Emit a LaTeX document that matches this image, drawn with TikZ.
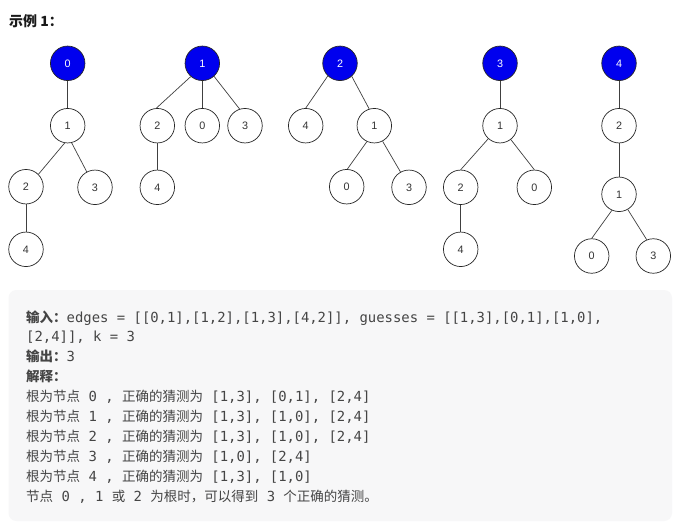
\documentclass[tikz,border=0pt]{standalone}
\usepackage{fontspec}
\newfontfamily\cjk{Noto Sans CJK SC}
\newfontfamily\mono{DejaVu Sans Mono}
\newfontfamily\nodefont{Liberation Sans}
\definecolor{rootblue}{RGB}{0,0,238}
\definecolor{txt}{HTML}{454545}
\definecolor{boxbg}{HTML}{F7F7F8}
\newcommand{\C}[1]{{\cjk\fontsize{13.5}{20}\selectfont #1}}
\newcommand{\CB}[1]{{\cjk\bfseries\fontsize{13.5}{20}\selectfont #1}}
\begin{document}
\begin{tikzpicture}[x=1pt,y=-1pt,
 tn/.style={circle,draw=black!85,line width=0.7pt,minimum size=34.5pt,inner sep=0pt,fill=white,font=\nodefont\fontsize{10.8}{12}\selectfont,text=black!80},
 rt/.style={tn,fill=rootblue,text=white},
 edge/.style={draw=black!75,line width=0.7pt},
 ln/.style={anchor=base west,inner sep=0pt,text=txt,font=\mono\fontsize{13.9}{20}\selectfont}
]
\fill[white] (0,0) rectangle (679,530);
\useasboundingbox (0,0) rectangle (679,530);

\node[anchor=base west,inner sep=0pt,font=\cjk\bfseries\fontsize{14}{16}\selectfont,text=black!90] (title) at (9,26) {示例 1：};

% tree 0
\node[rt] (a0) at (67.7,63.3) {0};
\node[tn] (a1) at (67.7,125.7) {1};
\node[tn] (a2) at (26,186.7) {2};
\node[tn] (a3) at (95,187.3) {3};
\node[tn] (a4) at (26,249.3) {4};
\draw[edge] (a0.south) -- (a1.north);
\draw[edge] (a1.-100) -- (a2.45);
\draw[edge] (a1.-77) -- (a3.118);
\draw[edge] (a2.south) -- (a4.north);

% tree 1
\node[rt] (b1) at (202.3,63.3) {1};
\node[tn] (b2) at (157.3,125.7) {2};
\node[tn] (b0) at (202.3,125.7) {0};
\node[tn] (b3) at (245,125.7) {3};
\node[tn] (b4) at (157.3,187.3) {4};
\draw[edge] (b1.-131) -- (b2.93);
\draw[edge] (b1.south) -- (b0.north);
\draw[edge] (b1.-48) -- (b3.108);
\draw[edge] (b2.south) -- (b4.north);

% tree 2
\node[rt] (c2) at (340,63.3) {2};
\node[tn] (c4) at (305.7,125.7) {4};
\node[tn] (c1) at (374.3,125.7) {1};
\node[tn] (c0) at (346.7,186.7) {0};
\node[tn] (c3) at (409,187.3) {3};
\draw[edge] (c2.-134) -- (c4.90);
\draw[edge] (c2.-48) -- (c1.107);
\draw[edge] (c1.-115) -- (c0.88);
\draw[edge] (c1.-62) -- (c3.119);

% tree 3
\node[rt] (d3) at (500,63.3) {3};
\node[tn] (d1) at (500,125.7) {1};
\node[tn] (d2) at (460.7,187.3) {2};
\node[tn] (d0) at (534.3,187.3) {0};
\node[tn] (d4) at (460.7,249.3) {4};
\draw[edge] (d3.south) -- (d1.north);
\draw[edge] (d1.-132) -- (d2.90);
\draw[edge] (d1.-52) -- (d0.90);
\draw[edge] (d2.south) -- (d4.north);

% tree 4
\node[rt] (e4) at (619,63.3) {4};
\node[tn] (e2) at (619,125.7) {2};
\node[tn] (e1) at (619,194.3) {1};
\node[tn] (e0) at (591.7,256) {0};
\node[tn] (e3) at (653.3,256) {3};
\draw[edge] (e4.south) -- (e2.north);
\draw[edge] (e2.south) -- (e1.north);
\draw[edge] (e1.-114) -- (e0.90);
\draw[edge] (e1.-60) -- (e3.112);

% text box
\fill[boxbg,rounded corners=8pt] (8.5,290) rectangle (672,521);
\node[ln] (l1) at (26,322) {\CB{输入：}edges = [[0,1],[1,2],[1,3],[4,2]], guesses = [[1,3],[0,1],[1,0],};
\node[ln] (l2) at (26,341.95) {[2,4]], k = 3};
\node[ln] (l3) at (26,361.9) {\CB{输出：}3};
\node[ln] (l4) at (26,381.85) {\CB{解释：}};
\node[ln] (l5) at (26,401.8) {\C{根为节点} 0 , \C{正确的猜测为} [1,3], [0,1], [2,4]};
\node[ln] (l6) at (26,421.75) {\C{根为节点} 1 , \C{正确的猜测为} [1,3], [1,0], [2,4]};
\node[ln] (l7) at (26,441.7) {\C{根为节点} 2 , \C{正确的猜测为} [1,3], [1,0], [2,4]};
\node[ln] (l8) at (26,461.65) {\C{根为节点} 3 , \C{正确的猜测为} [1,0], [2,4]};
\node[ln] (l9) at (26,481.6) {\C{根为节点} 4 , \C{正确的猜测为} [1,3], [1,0]};
\node[ln] (l10) at (26,501.55) {\C{节点} 0 , 1 \C{或} 2 \C{为根时，可以得到} 3 \C{个正确的猜测。}};
\end{tikzpicture}
\end{document}
